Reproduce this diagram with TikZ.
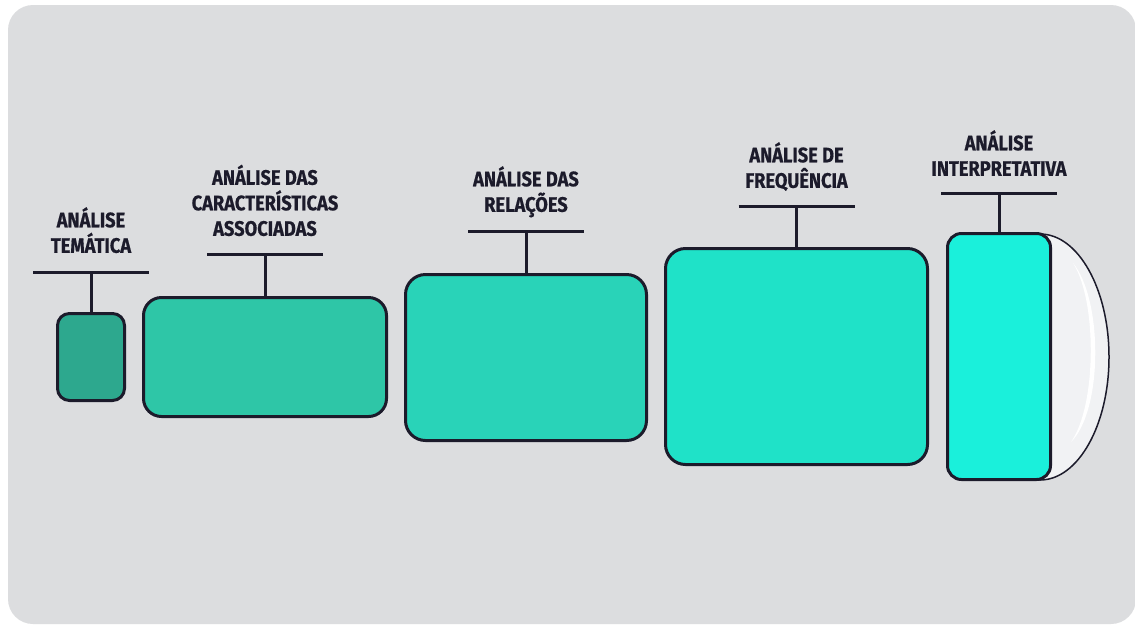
\documentclass[tikz,border=0pt]{standalone}
\usepackage{fontspec}
\newfontfamily\labfont[FakeStretch=0.87,FakeBold=0.6]{Fira Sans}
\definecolor{bgc}{HTML}{DCDDDF}
\definecolor{ink}{HTML}{1C1B2B}
\definecolor{cA}{HTML}{2DA88E}
\definecolor{cB}{HTML}{2EC6A7}
\definecolor{cC}{HTML}{29D3B8}
\definecolor{cD}{HTML}{1FE2C8}
\definecolor{cE}{HTML}{1AF0DB}
\definecolor{lens}{HTML}{F1F2F4}
\tikzset{
  stagebox/.style={draw=ink, line width=3pt, inner sep=0pt},
  tbar/.style={draw=ink, line width=3pt},
  stem/.style={draw=ink, line width=3pt},
  lab/.style={font=\labfont\bfseries\fontsize{21}{25.5}\selectfont, text=ink, align=center,
    anchor=south, inner sep=0pt, text depth=0pt},
}
\begin{document}
\begin{tikzpicture}[x=1pt,y=-1pt]
\useasboundingbox (0,0) rectangle (1135,625);
\fill[white] (0,0) rectangle (1135,625);
\fill[bgc, rounded corners=25pt] (8,5) rectangle (1136,624);

% lens behind last box
\filldraw[fill=lens, draw=ink, line width=1.5pt] (1040,357) ellipse [x radius=69, y radius=123];
\fill[white] (1073,263) .. controls (1103,300) and (1103,410) .. (1071,442)
   .. controls (1097,405) and (1097,300) .. cycle;

% boxes
\node[stagebox, fill=cA, minimum width=67pt, minimum height=87pt, rounded corners=12pt] (b1) at (91,357) {};
\node[stagebox, fill=cB, minimum width=243pt, minimum height=119pt, rounded corners=18pt] (b2) at (265,357) {};
\node[stagebox, fill=cC, minimum width=241pt, minimum height=166pt, rounded corners=20pt] (b3) at (526,357.5) {};
\node[stagebox, fill=cD, minimum width=262pt, minimum height=216pt, rounded corners=20pt] (b4) at (796.5,356.5) {};
\node[stagebox, fill=cE, minimum width=103pt, minimum height=246pt, rounded corners=14pt] (b5) at (999,356.5) {};

% T connectors
\coordinate (t1) at (91,272);
\coordinate (t2) at (265,254);
\coordinate (t3) at (526,231);
\coordinate (t4) at (796.5,206);
\coordinate (t5) at (999,193);
\foreach \i in {1,...,5}{
  \draw[tbar] ([xshift=-58pt]t\i) -- ([xshift=58pt]t\i);
  \draw[stem] (t\i) -- (b\i.north);
}

% labels
\node[lab] (l1) at (91,253) {ANÁLISE\\TEMÁTICA};
\node[lab] (l2) at (265,236) {ANÁLISE DAS\\CARACTERÍSTICAS\\ASSOCIADAS};
\node[lab] (l3) at (526,212) {ANÁLISE DAS\\RELAÇÕES};
\node[lab] (l4) at (796.5,188) {ANÁLISE DE\\FREQUÊNCIA};
\node[lab] (l5) at (999,176) {ANÁLISE\\INTERPRETATIVA};
\end{tikzpicture}
\end{document}
